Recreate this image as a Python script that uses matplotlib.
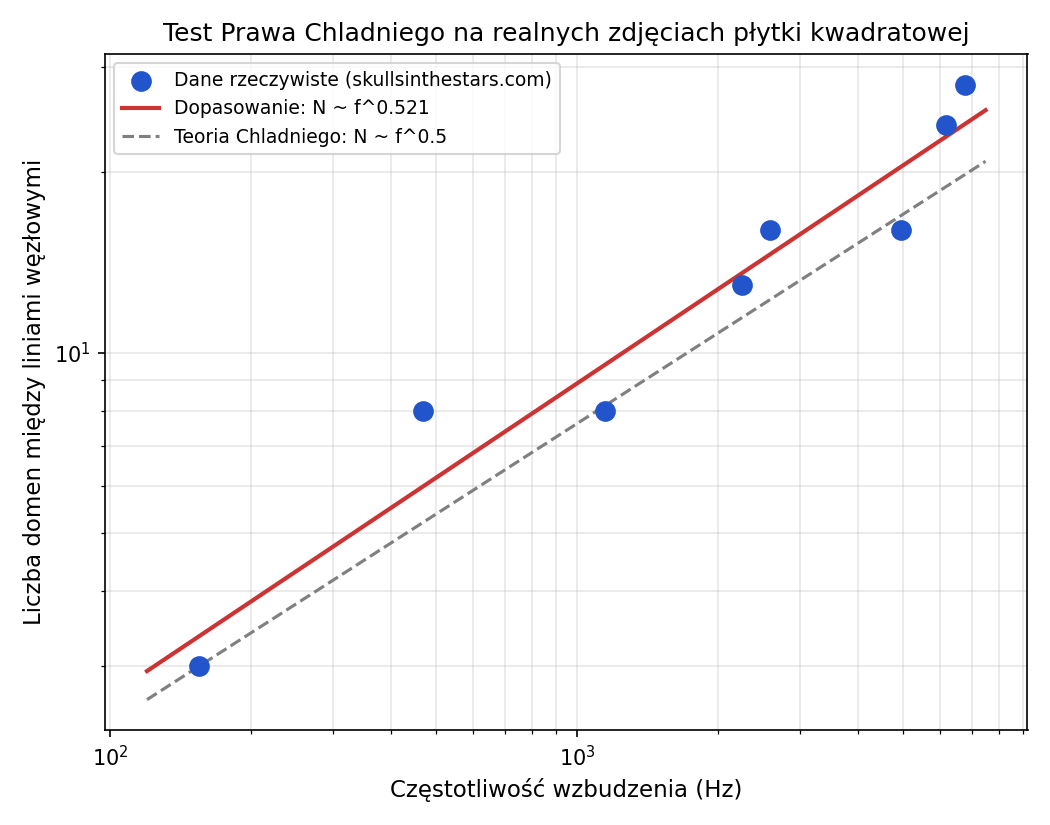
import numpy as np
import matplotlib
matplotlib.use("Agg")
import matplotlib.pyplot as plt

# czestotliwosc (Hz) i liczba domen
freq_hz = [155, 467, 1146, 2252, 2585, 4932, 6185, 6792]
n_domains = [3, 8, 8, 13, 16, 16, 24, 28]

f_min_line = 120
f_max_line = 7500

freq = np.array(freq_hz, dtype=float)
N = np.array(n_domains, dtype=float)

# dopasowanie prawa potegowego w skali log-log
slope, intercept = np.polyfit(np.log10(freq), np.log10(N), 1)
f_line = np.logspace(np.log10(f_min_line), np.log10(f_max_line), 200)
fit_line = 10 ** intercept * f_line ** slope
theory_line = N[0] * np.sqrt(f_line / freq[0])

fig, ax = plt.subplots(figsize=(7, 5.5), dpi=150)
ax.scatter(freq, N, s=80, color='#2255cc', zorder=3,
           label='Dane rzeczywiste (skullsinthestars.com)')
ax.plot(f_line, fit_line, color='#cc3333', lw=2,
        label=f'Dopasowanie: N ~ f^{slope:.3f}')
ax.plot(f_line, theory_line, '--', color='gray', lw=1.5,
        label='Teoria Chladniego: N ~ f^0.5')
ax.set_xscale('log')
ax.set_yscale('log')
ax.set_xlabel('Częstotliwość wzbudzenia (Hz)', fontsize=11)
ax.set_ylabel('Liczba domen między liniami węzłowymi', fontsize=11)
ax.set_title('Test Prawa Chladniego na realnych zdjęciach płytki kwadratowej', fontsize=12)
ax.grid(True, which='both', alpha=0.3)
ax.legend(loc='upper left', fontsize=9)
fig.tight_layout()
fig.savefig('out.png')
